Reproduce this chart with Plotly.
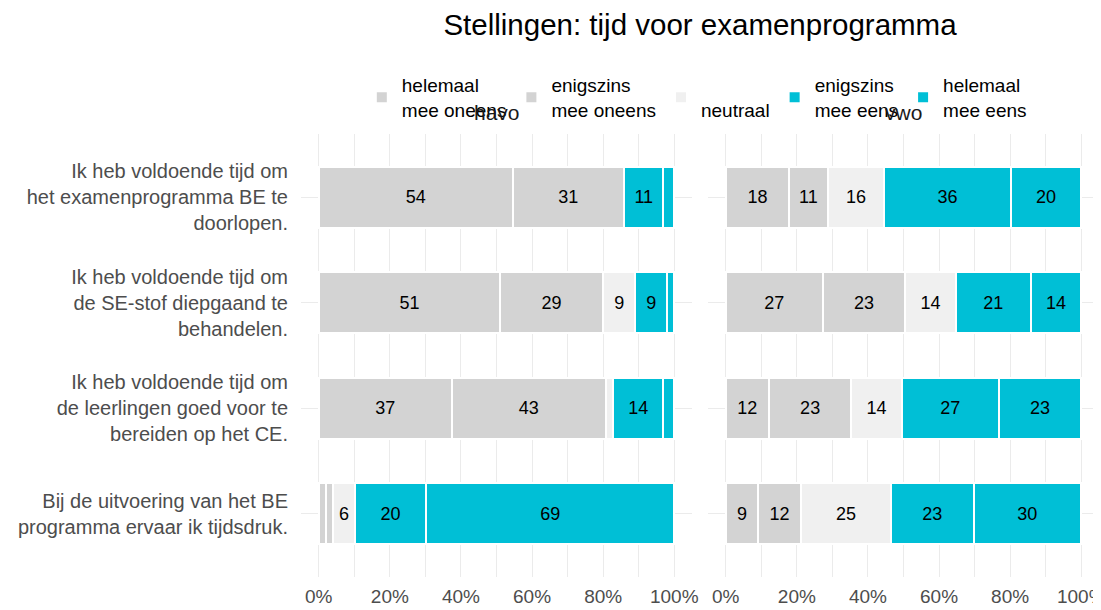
import plotly.graph_objects as go

categories = [
    "Ik heb voldoende tijd om<br>het examenprogramma BE te<br>doorlopen.",
    "Ik heb voldoende tijd om<br>de SE-stof diepgaand te<br>behandelen.",
    "Ik heb voldoende tijd om<br>de leerlingen goed voor te<br>bereiden op het CE.",
    "Bij de uitvoering van het BE<br>programma ervaar ik tijdsdruk.",
]
answer_levels = ["helemaal<br>mee oneens", "enigszins<br>mee oneens", " <br>neutraal",
                 "enigszins<br>mee eens", "helemaal<br>mee eens"]
colors = ["#d3d3d3", "#d3d3d3", "#f0f0f0", "#00bfd6", "#00bfd6"]

# values per answer level (rows = levels, columns = statements)
havo = [
    [54, 51, 37, 2],
    [31, 29, 43, 2],
    [0, 9, 2, 6],
    [11, 9, 14, 20],
    [3, 2, 3, 69],
]
vwo = [
    [18, 27, 12, 9],
    [11, 23, 23, 12],
    [16, 14, 14, 25],
    [36, 21, 27, 23],
    [20, 14, 23, 30],
]
facets = ["havo", "vwo"]
xticks = [0, 20, 40, 60, 80, 100]
min_label = 5

# page body has an 8px margin: figure is sized/offset to compensate
OFF = 8
W, H = 1101 - OFF, 610 - OFF
top, bottom, left, right = 134 - OFF, 577 - OFF, 301 - OFF, 1099 - OFF
ph = bottom - top

fig = go.Figure()
for f, (data, xa) in enumerate([(havo, "x"), (vwo, "x2")]):
    for i, lvl in enumerate(answer_levels):
        vals = data[i]
        fig.add_trace(go.Bar(
            y=categories, x=vals, orientation="h", name=lvl,
            xaxis=xa, yaxis="y", legendgroup=lvl, showlegend=(f == 0),
            marker=dict(color=colors[i], line=dict(color="white", width=2)),
            text=[str(v) if v >= min_label else "" for v in vals],
            textposition="inside", insidetextanchor="middle",
            textfont=dict(color="black", size=18, family="Liberation Sans, Arial"),
            width=0.58, hoverinfo="skip",
        ))

axis_common = dict(
    range=[-5, 105], tickvals=xticks, ticktext=[f"{v}%" for v in xticks],
    showgrid=True, gridcolor="#ebebeb", gridwidth=1.2,
    minor=dict(dtick=10, showgrid=True, gridcolor="#ebebeb", gridwidth=0.8),
    zeroline=False, showline=False, ticks="",
    tickfont=dict(size=19, color="#4d4d4d"), ticklabelstandoff=6,
    ticklabeloverflow="allow",
    anchor="y", fixedrange=True,
)
fig.update_layout(
    width=W, height=H,
    margin=dict(l=left, r=W - right, t=top, b=H - bottom, autoexpand=False),
    paper_bgcolor="white", plot_bgcolor="white",
    barmode="stack", barnorm="percent",
    font=dict(family="Liberation Sans, Arial", color="black"),
    uniformtext=dict(minsize=18, mode="show"),
    title=dict(text="Stellingen: tijd voor examenprogramma", x=0.5, xref="paper",
               y=1 - (25 - OFF) / H, yanchor="middle", xanchor="center",
               font=dict(size=29.5, color="black")),
    xaxis=dict(domain=[0, 0.49], **axis_common),
    xaxis2=dict(domain=[0.51, 1], **axis_common),
    yaxis=dict(type="category", categoryorder="array", categoryarray=categories,
               range=[3.6, -0.6], showgrid=True, gridcolor="#ebebeb", gridwidth=1.2,
               zeroline=False, ticks="", tickfont=dict(size=20, color="#4d4d4d"),
               ticklabelstandoff=12, automargin=False, fixedrange=True),
    legend=dict(orientation="h", x=0.496, xanchor="center", y=1 + (top - (66 - OFF)) / ph,
                yanchor="top", font=dict(size=19, color="black"),
                bgcolor="rgba(0,0,0,0)", traceorder="normal", itemsizing="constant"),
    annotations=[
        dict(text=facets[0], x=0.5, xref="x domain", y=1 + (top - (112 - OFF)) / ph, yref="paper",
             showarrow=False, font=dict(size=21, color="#1a1a1a"), yanchor="middle"),
        dict(text=facets[1], x=0.5, xref="x2 domain", y=1 + (top - (112 - OFF)) / ph, yref="paper",
             showarrow=False, font=dict(size=21, color="#1a1a1a"), yanchor="middle"),
    ],
)
fig.write_html("out.html")
